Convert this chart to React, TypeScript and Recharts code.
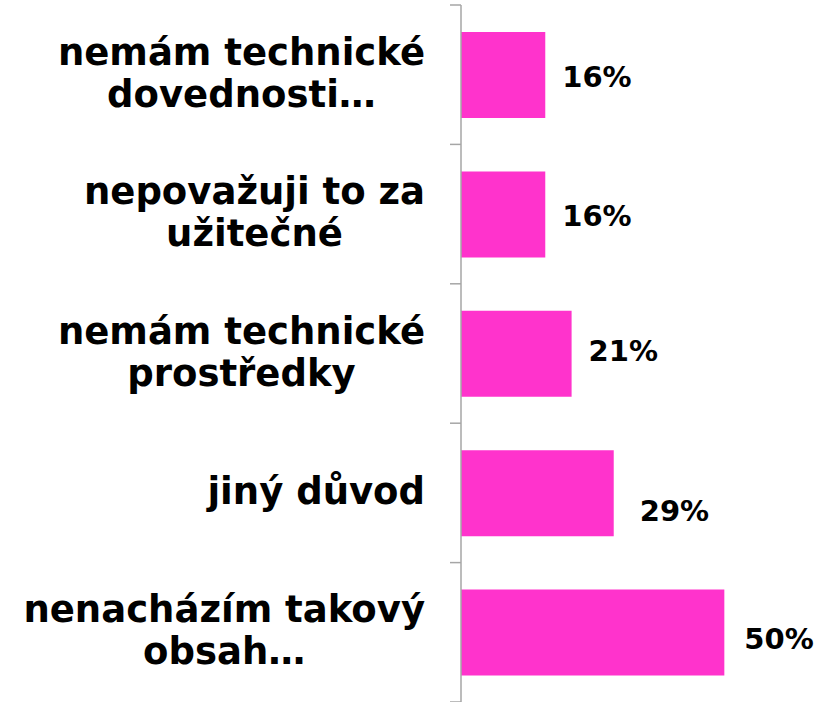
import { Bar, BarChart, LabelList, XAxis, YAxis } from "recharts";

const categories = [
  "nemám technické\ndovednosti…",
  "nepovažuji to za\nužitečné",
  "nemám technické\nprostředky",
  "jiný důvod",
  "nenacházím takový\nobsah…",
];
const values = [16, 16, 21, 29, 50];
const valueLabels = ["16%", "16%", "21%", "29%", "50%"];

// hand-placed label nudges, like the original
const labelNudge = [
  [17, 2],
  [17, 2],
  [17, -3],
  [26, 18],
  [20, 6],
];

const data = categories.map((label, i) => ({
  label,
  value: values[i],
  text: valueLabels[i],
}));

const WIDTH = 819;
const HEIGHT = 702;
const MARGIN = { top: 5, right: 42, bottom: 0, left: 0 };
const AXIS_WIDTH = 461;
const band = (HEIGHT - MARGIN.top - MARGIN.bottom) / categories.length;
const font = "'DejaVu Sans', Verdana, sans-serif";
const LABEL_SIZE = 37;

const measureCtx =
  typeof document !== "undefined" ? document.createElement("canvas").getContext("2d") : null;

function textWidth(s: string) {
  if (!measureCtx) return s.length * LABEL_SIZE * 0.65;
  measureCtx.font = `bold ${LABEL_SIZE}px ${font}`;
  return measureCtx.measureText(s).width;
}

function CategoryTick(props: any) {
  const { x, y, payload, index } = props;
  const lines = String(payload.value).split("\n");
  const lineHeight = 42;
  const maxW = Math.max(...lines.map(textWidth));
  const cx = x - 36 - maxW / 2;
  return (
    <g>
      <line x1={x - 11} x2={x} y1={y - band / 2} y2={y - band / 2} stroke="#A6A6A6" strokeWidth={1.5} />
      {index === categories.length - 1 ? (
        <line x1={x - 11} x2={x} y1={y + band / 2} y2={y + band / 2} stroke="#A6A6A6" strokeWidth={1.5} />
      ) : null}
      <text
        x={cx}
        y={y}
        textAnchor="middle"
        fontFamily={font}
        fontWeight="bold"
        fontSize={LABEL_SIZE}
        fill="#000"
      >
        {lines.map((line, i) => (
          <tspan key={i} x={cx} y={y + (i - (lines.length - 1) / 2) * lineHeight + 11}>
            {line}
          </tspan>
        ))}
      </text>
    </g>
  );
}

function ValueLabel(props: any) {
  const { x, y, width, height, value, index } = props;
  const [dx, dy] = labelNudge[index ?? 0] ?? [17, 0];
  return (
    <text
      x={Number(x) + Number(width) + dx}
      y={Number(y) + Number(height) / 2 + dy}
      dominantBaseline="central"
      fontFamily={font}
      fontWeight="bold"
      fontSize={29}
      fill="#000"
    >
      {value}
    </text>
  );
}

export default function App() {
  return (
    <div style={{ position: "absolute", left: 0, top: 0, width: WIDTH, height: HEIGHT, background: "#fff" }}>
      <BarChart width={WIDTH} height={HEIGHT} data={data} layout="vertical" margin={MARGIN}>
        <XAxis type="number" domain={[0, 60]} hide />
        <YAxis
          type="category"
          dataKey="label"
          width={AXIS_WIDTH}
          interval={0}
          tickLine={false}
          tickSize={0}
          tickMargin={0}
          axisLine={{ stroke: "#A6A6A6", strokeWidth: 1.5 }}
          tick={<CategoryTick />}
        />
        <Bar dataKey="value" fill="#FF33CC" barSize={86} isAnimationActive={false}>
          <LabelList dataKey="text" content={<ValueLabel />} />
        </Bar>
      </BarChart>
    </div>
  );
}
